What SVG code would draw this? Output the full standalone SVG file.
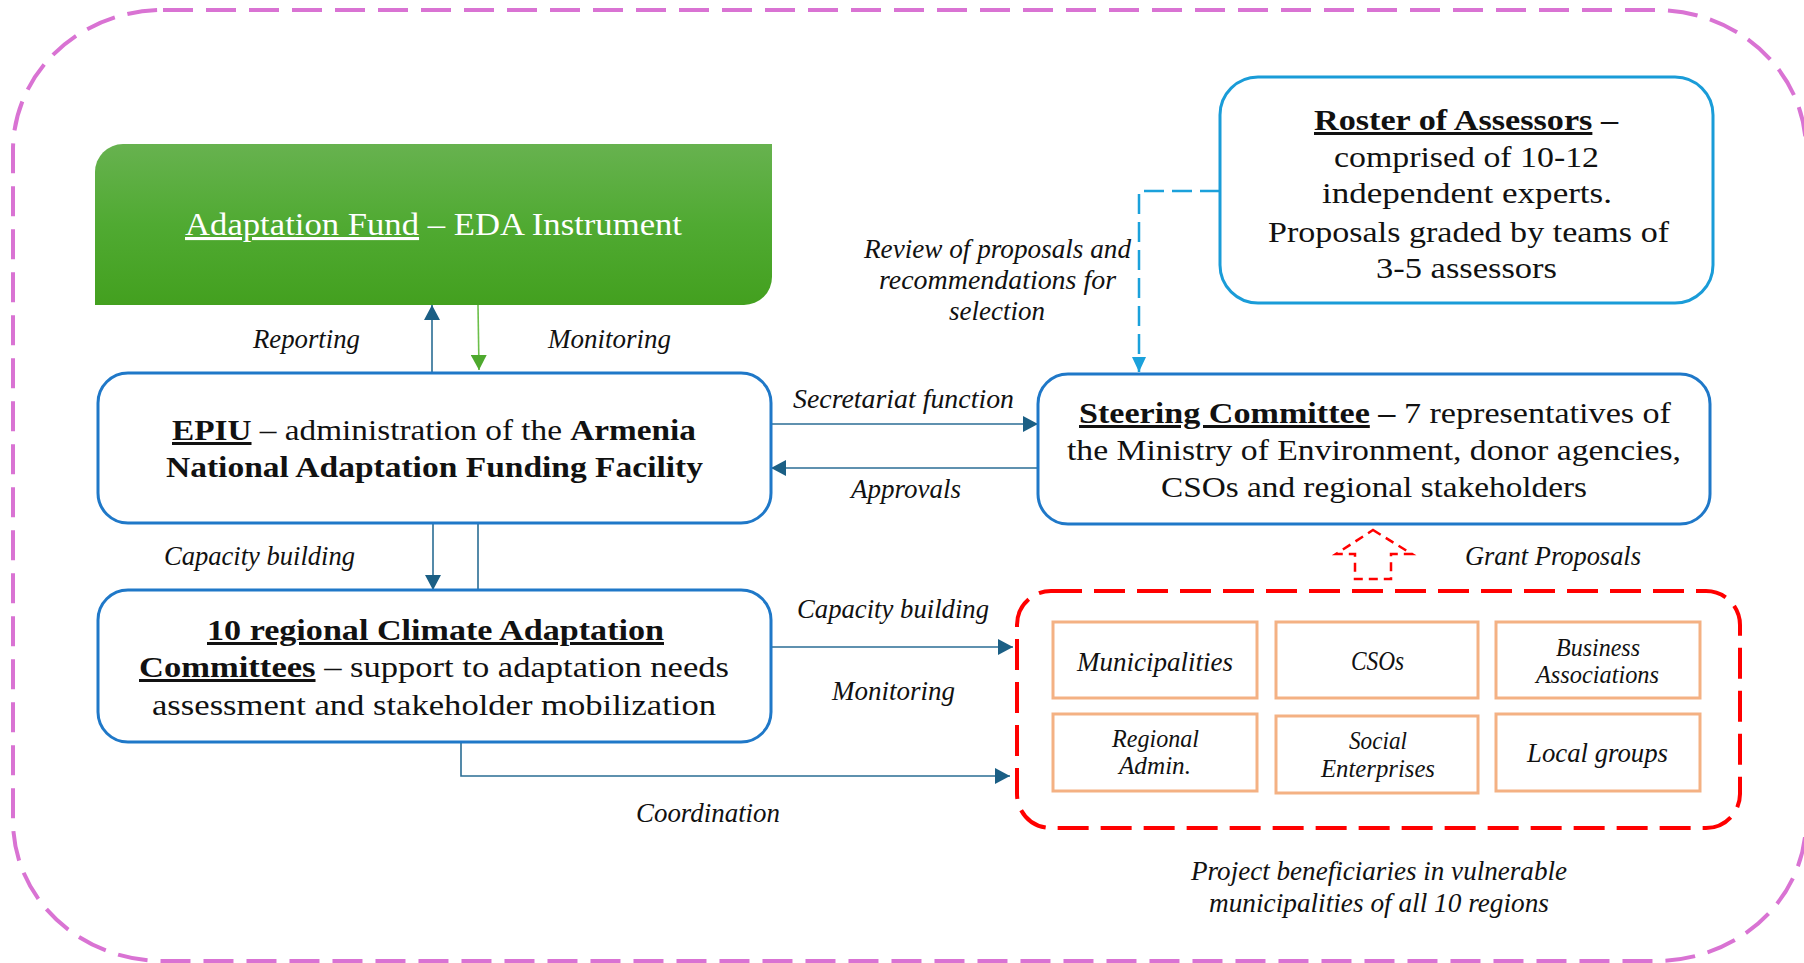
<svg xmlns="http://www.w3.org/2000/svg" width="1804" height="963" viewBox="0 0 1804 963">
  <style>
    .t { font-family: "Liberation Serif", "Times New Roman", serif; font-size: 30px; fill: #111; text-anchor: middle; }
    .lbl { font-family: "Liberation Serif", "Times New Roman", serif; font-size: 27px; font-style: italic; fill: #111; text-anchor: middle; }
    .b { font-weight: bold; }
    .u { text-decoration: underline; }
    .box { fill: #fff; stroke: #1f78c8; stroke-width: 3; }
    .cell { fill: #fff; stroke: #f4b183; stroke-width: 3; }
    .conn { fill: none; stroke: #2a6d94; stroke-width: 1.6; }
  </style>
  <defs>
    <linearGradient id="greenFill" x1="0" y1="0" x2="0" y2="1">
      <stop offset="0" stop-color="#67b24f"/>
      <stop offset="0.5" stop-color="#50aa32"/>
      <stop offset="1" stop-color="#43a01f"/>
    </linearGradient>
    <marker id="headBlue" viewBox="0 0 15 16" refX="15" refY="8" markerWidth="15" markerHeight="16" orient="auto" markerUnits="userSpaceOnUse">
      <path d="M0,0 L15,8 L0,16 z" fill="#1b5f85"/>
    </marker>
    <marker id="headGreen" viewBox="0 0 15 16" refX="15" refY="8" markerWidth="15" markerHeight="16" orient="auto" markerUnits="userSpaceOnUse">
      <path d="M0,0 L15,8 L0,16 z" fill="#4ea92e"/>
    </marker>
    <marker id="headSky" viewBox="0 0 15 14" refX="15" refY="7" markerWidth="15" markerHeight="14" orient="auto" markerUnits="userSpaceOnUse">
      <path d="M0,0 L15,7 L0,14 z" fill="#1ba1db"/>
    </marker>
  </defs>

  <rect width="1804" height="963" fill="#fff"/>

  <!-- outer dashed frame -->
  <rect id="frame" x="13" y="10" width="1793" height="951" rx="150" ry="140" fill="none" stroke="#d973d3" stroke-width="4" stroke-dasharray="30 13"/>

  <!-- connectors -->
  <g id="connectors">
    <line class="conn" x1="432" y1="372" x2="432" y2="305" marker-end="url(#headBlue)"/>
    <line x1="478" y1="305" x2="479" y2="370" stroke="#6cbf4a" stroke-width="1.6" marker-end="url(#headGreen)"/>
    <line class="conn" x1="771" y1="424" x2="1038" y2="424" marker-end="url(#headBlue)"/>
    <line class="conn" x1="1038" y1="468" x2="771" y2="468" marker-end="url(#headBlue)"/>
    <line class="conn" x1="433" y1="523" x2="433" y2="590" marker-end="url(#headBlue)"/>
    <line class="conn" x1="478" y1="523" x2="478" y2="590"/>
    <line class="conn" x1="771" y1="647" x2="1013" y2="647" marker-end="url(#headBlue)"/>
    <polyline class="conn" points="461,742 461,776 1010,776" stroke-width="2" marker-end="url(#headBlue)"/>
    <polyline points="1220,191 1139,191 1139,372" fill="none" stroke="#1ba1db" stroke-width="2.5" stroke-dasharray="20 8" marker-end="url(#headSky)"/>
    <polygon points="1373,530 1412,554 1391,554 1391,579 1355,579 1355,554 1336,554" fill="none" stroke="#ff0000" stroke-width="2.5" stroke-dasharray="9 6"/>
  </g>

  <!-- Adaptation Fund -->
  <g id="adaptation-fund">
    <path d="M123,144 H772 V277 A28,28 0 0 1 744,305 H95 V172 A28,28 0 0 1 123,144 Z" fill="url(#greenFill)"/>
    <text class="t" x="433.5" y="235" textLength="497" lengthAdjust="spacingAndGlyphs" style="fill:#fff;font-size:31px"><tspan class="u">Adaptation Fund</tspan> – EDA Instrument</text>
  </g>

  <!-- EPIU -->
  <g id="epiu">
    <rect class="box" x="98" y="373" width="673" height="150" rx="30"/>
    <text class="t" x="434" y="440" textLength="524" lengthAdjust="spacingAndGlyphs"><tspan class="b u">EPIU</tspan> – administration of the <tspan class="b">Armenia</tspan></text>
    <text class="t b" x="434.5" y="477" textLength="537" lengthAdjust="spacingAndGlyphs">National Adaptation Funding Facility</text>
  </g>

  <!-- Regional committees -->
  <g id="regional-committees">
    <rect class="box" x="98" y="590" width="673" height="152" rx="30"/>
    <text class="t b u" x="435.5" y="640" textLength="457" lengthAdjust="spacingAndGlyphs">10 regional Climate Adaptation</text>
    <text class="t" x="434" y="677" textLength="590" lengthAdjust="spacingAndGlyphs"><tspan class="b u">Committees</tspan> – support to adaptation needs</text>
    <text class="t" x="434" y="715" textLength="564" lengthAdjust="spacingAndGlyphs">assessment and stakeholder mobilization</text>
  </g>

  <!-- Steering Committee -->
  <g id="steering-committee">
    <rect class="box" x="1038" y="374" width="672" height="150" rx="30"/>
    <text class="t" x="1375" y="423" textLength="592" lengthAdjust="spacingAndGlyphs"><tspan class="b u">Steering Committee</tspan><tspan class="b"> –</tspan> 7 representatives of</text>
    <text class="t" x="1374" y="460" textLength="614" lengthAdjust="spacingAndGlyphs">the Ministry of Environment, donor agencies,</text>
    <text class="t" x="1374" y="497" textLength="426" lengthAdjust="spacingAndGlyphs">CSOs and regional stakeholders</text>
  </g>

  <!-- Roster of Assessors -->
  <g id="roster">
    <rect x="1220" y="77" width="493" height="226" rx="38" fill="#fff" stroke="#1a9cd8" stroke-width="3"/>
    <text class="t" x="1466" y="130" textLength="304" lengthAdjust="spacingAndGlyphs"><tspan class="b u">Roster of Assessors</tspan><tspan class="b"> –</tspan></text>
    <text class="t" x="1466.5" y="167" textLength="265" lengthAdjust="spacingAndGlyphs">comprised of 10-12</text>
    <text class="t" x="1467" y="203" textLength="290" lengthAdjust="spacingAndGlyphs">independent experts.</text>
    <text class="t" x="1468.5" y="242" textLength="401" lengthAdjust="spacingAndGlyphs">Proposals graded by teams of</text>
    <text class="t" x="1466.5" y="278" textLength="181" lengthAdjust="spacingAndGlyphs">3-5 assessors</text>
  </g>

  <!-- Project beneficiaries -->
  <g id="beneficiaries">
    <rect x="1017" y="591" width="723" height="237" rx="34" fill="none" stroke="#ff0000" stroke-width="4" stroke-dasharray="31 12"/>
    <rect class="cell" x="1053" y="622" width="204" height="76"/>
    <rect class="cell" x="1276" y="622" width="202" height="76"/>
    <rect class="cell" x="1496" y="622" width="204" height="76"/>
    <rect class="cell" x="1053" y="714" width="204" height="77"/>
    <rect class="cell" x="1276" y="716" width="202" height="77"/>
    <rect class="cell" x="1496" y="714" width="204" height="77"/>
    <text class="lbl" x="1155" y="671" style="font-size:28px" textLength="156" lengthAdjust="spacingAndGlyphs">Municipalities</text>
    <text class="lbl" x="1377.5" y="670" style="font-size:28px" textLength="53" lengthAdjust="spacingAndGlyphs">CSOs</text>
    <text class="lbl" x="1598" y="656" style="font-size:25px" textLength="84" lengthAdjust="spacingAndGlyphs">Business</text>
    <text class="lbl" x="1597.5" y="683" style="font-size:25px" textLength="123" lengthAdjust="spacingAndGlyphs">Associations</text>
    <text class="lbl" x="1155.5" y="747" style="font-size:25px" textLength="87" lengthAdjust="spacingAndGlyphs">Regional</text>
    <text class="lbl" x="1155" y="774" style="font-size:25px" textLength="72" lengthAdjust="spacingAndGlyphs">Admin.</text>
    <text class="lbl" x="1378" y="749" style="font-size:25px" textLength="58" lengthAdjust="spacingAndGlyphs">Social</text>
    <text class="lbl" x="1378" y="777" style="font-size:25px" textLength="114" lengthAdjust="spacingAndGlyphs">Enterprises</text>
    <text class="lbl" x="1597.5" y="762" style="font-size:28px" textLength="141" lengthAdjust="spacingAndGlyphs">Local groups</text>
    <text class="lbl" x="1379" y="880" textLength="376" lengthAdjust="spacingAndGlyphs">Project beneficiaries in vulnerable</text>
    <text class="lbl" x="1379" y="912" textLength="340" lengthAdjust="spacingAndGlyphs">municipalities of all 10 regions</text>
  </g>

  <!-- connector labels -->
  <g id="labels">
    <text class="lbl" x="306.5" y="348" textLength="107" lengthAdjust="spacingAndGlyphs">Reporting</text>
    <text class="lbl" x="609.5" y="348" textLength="123" lengthAdjust="spacingAndGlyphs">Monitoring</text>
    <text class="lbl" x="997.5" y="258" textLength="267" lengthAdjust="spacingAndGlyphs">Review of proposals and</text>
    <text class="lbl" x="997.5" y="289" textLength="237" lengthAdjust="spacingAndGlyphs">recommendations for</text>
    <text class="lbl" x="997" y="320" textLength="96" lengthAdjust="spacingAndGlyphs">selection</text>
    <text class="lbl" x="903.5" y="408" textLength="221" lengthAdjust="spacingAndGlyphs">Secretariat function</text>
    <text class="lbl" x="906" y="498" textLength="110" lengthAdjust="spacingAndGlyphs">Approvals</text>
    <text class="lbl" x="259.5" y="565" textLength="191" lengthAdjust="spacingAndGlyphs">Capacity building</text>
    <text class="lbl" x="893" y="618" textLength="192" lengthAdjust="spacingAndGlyphs">Capacity building</text>
    <text class="lbl" x="893.5" y="700" textLength="123" lengthAdjust="spacingAndGlyphs">Monitoring</text>
    <text class="lbl" x="1553" y="565" textLength="176" lengthAdjust="spacingAndGlyphs">Grant Proposals</text>
    <text class="lbl" x="708" y="822" textLength="144" lengthAdjust="spacingAndGlyphs">Coordination</text>
  </g>
</svg>
